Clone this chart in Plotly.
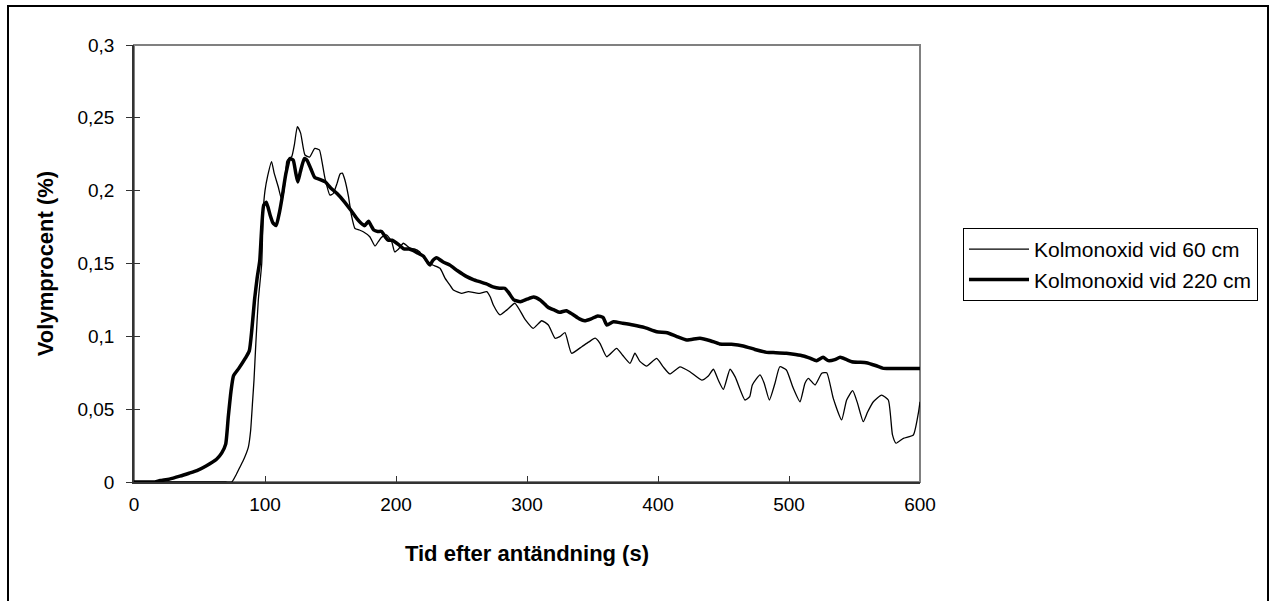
import plotly.graph_objects as go

# ---- data ----
t_60 = [0, 70, 74.6, 78, 81, 84, 87.3, 89, 90.5, 91.6, 93, 94.9, 97.5, 98.7, 100, 102, 105, 107, 110, 112.7,
        114.5, 116.6, 118, 120.4, 122.5, 124.7, 127.2, 130.5, 134, 138, 141.5, 143.5, 145.8, 149.6, 152, 155,
        157.3, 159, 161, 163.7, 166, 168.7, 172, 175, 180, 184, 186.5, 189, 192.8, 196.7, 199, 202, 205.6,
        210.7, 214, 218, 223.4, 228, 233.6, 237.4, 240.5, 243.8, 250, 255.2, 260, 264, 269.3, 272, 274.3,
        279.4, 284.5, 290.8, 298.5, 304.8, 311.2, 316.3, 321.4, 325, 329, 334, 341.8, 347, 352, 355.7, 360.8,
        368.4, 373, 378.6, 382.4, 386, 391.3, 399, 404, 409, 416.8, 424.4, 433.4, 438.4, 442.3, 446, 449.9,
        455, 459, 466.4, 470, 472, 477.9, 481, 485, 489.3, 493, 498, 503, 508.4, 512.2, 514.8, 519.9, 525,
        528.8, 533.8, 540.2, 544, 548.6, 552, 556.7, 560, 564.4, 570.6, 575.8, 579, 581.7, 587.3, 594.9,
        598.7, 600]
v_60 = [0, 0, 0, 0.005, 0.0105, 0.016, 0.024, 0.035, 0.055, 0.07, 0.095, 0.125, 0.15, 0.187, 0.2, 0.21,
        0.22, 0.212, 0.203, 0.194, 0.2, 0.22, 0.222, 0.2234, 0.232, 0.244, 0.2395, 0.2245, 0.223, 0.229,
        0.228, 0.22, 0.2085, 0.197, 0.198, 0.205, 0.2115, 0.212, 0.2073, 0.196, 0.183, 0.174, 0.173, 0.1718,
        0.1684, 0.162, 0.165, 0.168, 0.1696, 0.165, 0.158, 0.16, 0.1639, 0.1605, 0.16, 0.158, 0.1513, 0.149,
        0.1467, 0.14, 0.136, 0.1318, 0.1295, 0.1307, 0.13, 0.1295, 0.1307, 0.127, 0.1215, 0.1147, 0.118,
        0.1227, 0.1117, 0.1055, 0.1107, 0.1078, 0.0987, 0.0998, 0.1025, 0.0884, 0.0929, 0.096, 0.0987,
        0.0952, 0.086, 0.0918, 0.087, 0.0815, 0.0884, 0.083, 0.0796, 0.0849, 0.079, 0.0742, 0.0791, 0.0757,
        0.07, 0.0728, 0.0774, 0.07, 0.0636, 0.0774, 0.072, 0.0563, 0.0586, 0.0666, 0.0735, 0.068, 0.0563,
        0.0678, 0.0791, 0.0769, 0.065, 0.0551, 0.0678, 0.0712, 0.0666, 0.0746, 0.075, 0.0574, 0.0426,
        0.0563, 0.0627, 0.055, 0.0414, 0.048, 0.0551, 0.0597, 0.0563, 0.0323, 0.0266, 0.03, 0.0323, 0.0471,
        0.0551]

t_220 = [0, 10, 15, 20, 27, 35, 42, 48, 55, 63, 67, 70, 72, 74, 76, 80, 85, 88, 90, 92, 94, 96, 99, 101,
         104, 106, 108.5, 111, 113, 116, 119, 121.5, 123.5, 125, 127, 130, 132, 135, 138, 141, 146, 150, 155,
         160, 166, 170, 173, 176, 179, 181, 183, 186, 189, 192, 194, 197, 199, 202, 206, 210, 213, 217, 221,
         224, 226, 228, 231, 236, 241, 247, 254, 259, 264, 269, 274, 279, 283, 286, 290, 295, 300, 305, 310,
         316, 321, 325, 330, 335, 340, 344, 349, 354, 358, 361, 366, 373, 381, 390, 399, 407, 414, 422, 432,
         440, 447, 456, 465, 474, 483, 490, 498, 505, 511, 516, 521, 526, 530, 535, 539, 544, 548, 553, 559,
         566, 572, 580, 590, 600]
v_220 = [0, 0, 0, 0.001, 0.002, 0.004, 0.006, 0.0078, 0.011, 0.0156, 0.02, 0.026, 0.045, 0.062, 0.073, 0.078,
         0.085, 0.09, 0.105, 0.125, 0.14, 0.152, 0.19, 0.192, 0.183, 0.178, 0.176, 0.185, 0.195, 0.212, 0.222,
         0.221, 0.212, 0.206, 0.213, 0.222, 0.221, 0.215, 0.209, 0.208, 0.206, 0.202, 0.198, 0.193, 0.186,
         0.181, 0.178, 0.176, 0.179, 0.176, 0.173, 0.172, 0.172, 0.168, 0.166, 0.166, 0.165, 0.163, 0.16,
         0.16, 0.159, 0.157, 0.155, 0.151, 0.149, 0.152, 0.154, 0.151, 0.149, 0.145, 0.141, 0.139, 0.1375,
         0.136, 0.134, 0.133, 0.133, 0.13, 0.125, 0.1238, 0.1255, 0.127, 0.125, 0.12, 0.118, 0.1165, 0.1176,
         0.115, 0.112, 0.1107, 0.112, 0.114, 0.113, 0.1078, 0.11, 0.109, 0.1078, 0.106, 0.1032, 0.1025, 0.1,
         0.0975, 0.0987, 0.097, 0.0948, 0.0945, 0.0934, 0.091, 0.089, 0.0888, 0.0884, 0.0875, 0.0865, 0.085,
         0.0833, 0.0856, 0.0833, 0.084, 0.0856, 0.084, 0.0826, 0.0822, 0.0819, 0.08, 0.078, 0.078, 0.078, 0.078]

series_names = ["Kolmonoxid vid 60 cm", "Kolmonoxid vid 220 cm"]
x_title = "Tid efter antändning (s)"
y_title = "Volymprocent (%)"

assert len(t_60) == len(v_60), (len(t_60), len(v_60))
assert len(t_220) == len(v_220), (len(t_220), len(v_220))

FONT = "Liberation Sans, Arial, sans-serif"

fig = go.Figure()
fig.add_trace(go.Scatter(x=t_60, y=v_60, mode="lines", name=series_names[0],
                         line=dict(color="black", width=1.3, shape="spline", smoothing=0.5)))
fig.add_trace(go.Scatter(x=t_220, y=v_220, mode="lines", name=series_names[1],
                         line=dict(color="black", width=3.5, shape="spline", smoothing=0.5)))
# invisible trace to carry the overlay y axis (inside half of the cross ticks)
fig.add_trace(go.Scatter(x=[0], y=[0], yaxis="y2", mode="lines", showlegend=False,
                         hoverinfo="skip", line=dict(width=0)))

W, H = 1272, 601
L, R, T, B = 134, 920, 45, 482

fig.update_layout(
    width=W, height=H,
    margin=dict(l=L, r=W - R, t=T, b=H - B, pad=0),
    paper_bgcolor="white", plot_bgcolor="white",
    separators=", ",
    font=dict(family=FONT, size=19, color="black"),
    showlegend=True,
    legend=dict(x=(963 - L) / (R - L), y=(B - 228) / (B - T), xanchor="left", yanchor="top",
                bordercolor="black", borderwidth=1, bgcolor="white",
                font=dict(family=FONT, size=21), itemwidth=60, tracegroupgap=0),
    xaxis=dict(range=[0, 600], dtick=100, tick0=0, showgrid=False, zeroline=False,
               showline=True, linecolor="#333", linewidth=1.5,
               ticks="inside", ticklen=6, tickcolor="#333", tickwidth=1,
               tickfont=dict(size=19), ticklabelstandoff=4,
               title=dict(text="<b>" + x_title + "</b>", font=dict(size=22), standoff=32)),
    yaxis=dict(range=[0, 0.3], dtick=0.05, tick0=0, showgrid=False, zeroline=False,
               showline=True, linecolor="#333", linewidth=1.5,
               ticks="outside", ticklen=6, tickcolor="#333", tickwidth=1,
               tickfont=dict(size=19), ticklabelstandoff=8,
               title=dict(text="<b>" + y_title + "</b>", font=dict(size=22), standoff=18)),
    yaxis2=dict(range=[0, 0.3], dtick=0.05, tick0=0, overlaying="y", side="left",
                showgrid=False, zeroline=False, showline=False, showticklabels=False,
                ticks="inside", ticklen=6, tickcolor="#333", tickwidth=1),
    shapes=[
        # plot area frame (gray top/right)
        dict(type="rect", xref="paper", yref="paper", x0=0, x1=1, y0=0, y1=1,
             line=dict(color="#808080", width=2), layer="below"),
        # outer chart border
        dict(type="rect", xref="paper", yref="paper",
             x0=(8 - L) / (R - L), x1=(1268 - L) / (R - L),
             y0=(B - 610) / (B - T), y1=(B - 6) / (B - T),
             line=dict(color="black", width=2)),
    ],
)

fig.write_html("out.html")
